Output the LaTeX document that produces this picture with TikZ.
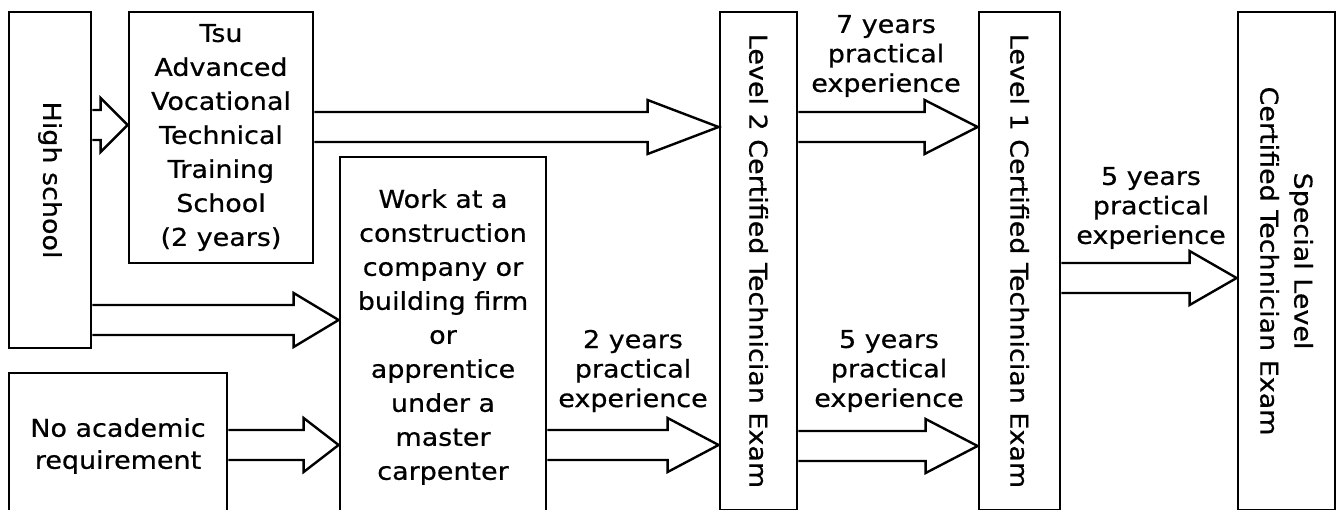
\documentclass[tikz,border=0pt]{standalone}
\usepackage{fontspec}
\setmainfont[FakeStretch=1.1,FakeBold=0.6]{DejaVu Sans}
\usetikzlibrary{calc}

\tikzset{
  box/.style={draw, line width=2.8pt, inner sep=0pt, align=center, font=\fontsize{24.5}{34}\selectfont},
  vtext/.style={rotate=-90, align=center, font=\fontsize{24.5}{34}\selectfont},
  lbl/.style={align=center, font=\fontsize{24.5}{29.5}\selectfont},
  arrowline/.style={draw, fill=white, line width=2.4pt, line join=miter},
}

% hollow arrow from node #1 to node #2 at height #3, head length #4
\newcommand{\blockarrow}[4]{%
  \coordinate (s) at (#1.east |- 0,#3);
  \coordinate (t) at (#2.west |- 0,#3);
  \draw[arrowline] ($(s)+(0,-15)$) -- ($(t)+(-#4,-15)$) -- ($(t)+(-#4,-27)$) -- (t)
    -- ($(t)+(-#4,27)$) -- ($(t)+(-#4,15)$) -- ($(s)+(0,15)$);
}

\begin{document}
\begin{tikzpicture}[x=1pt,y=-1pt]
\useasboundingbox (0,0) rectangle (1340,509);

% boxes
\node[box, minimum width=82, minimum height=336] (hs) at (50,180) {};
\node[vtext] (hstxt) at (hs) {High school};
\node[box, minimum width=184, minimum height=251] (tsu) at (221,137.5) {Tsu\\Advanced\\Vocational\\Technical\\Training\\School\\(2 years)};
\node[box, minimum width=206, minimum height=360] (work) at (443,337) {Work at a\\construction\\company or\\building firm\\or\\apprentice\\under a\\master\\carpenter};
\node[box, minimum width=218, minimum height=146, font=\fontsize{24.5}{32}\selectfont] (noac) at (118,446) {No academic\\requirement};

% exams
\node[box, minimum width=77, minimum height=498] (lvtwo) at (758.5,261) {};
\node[vtext] (lvtwotxt) at (lvtwo) {Level 2 Certified Technician Exam};
\node[box, minimum width=81, minimum height=498] (lvone) at (1019.5,261) {};
\node[vtext] (lvonetxt) at (lvone) {Level 1 Certified Technician Exam};
\node[box, minimum width=97, minimum height=498] (sp) at (1286.5,261) {};
\node[vtext] (sptxt) at (sp) {Special Level\\Certified Technician Exam};

% labels
\node[lbl] (lbtwo) at (633,371) {2 years\\practical\\experience};
\node[lbl] (lbseven) at (886,56) {7 years\\practical\\experience};
\node[lbl] (lbfive) at (889,371) {5 years\\practical\\experience};
\node[lbl] (lbspecial) at (1151,208) {5 years\\practical\\experience};

% arrows
\blockarrow{hs}{tsu}{125}{27}
\blockarrow{tsu}{lvtwo}{127}{71}
\blockarrow{hs}{work}{320}{45}
\blockarrow{noac}{work}{445}{35}
\blockarrow{work}{lvtwo}{445}{51}
\blockarrow{lvtwo}{lvone}{127}{53}
\blockarrow{lvtwo}{lvone}{446}{52}
\blockarrow{lvone}{sp}{278}{47}
\end{tikzpicture}
\end{document}
